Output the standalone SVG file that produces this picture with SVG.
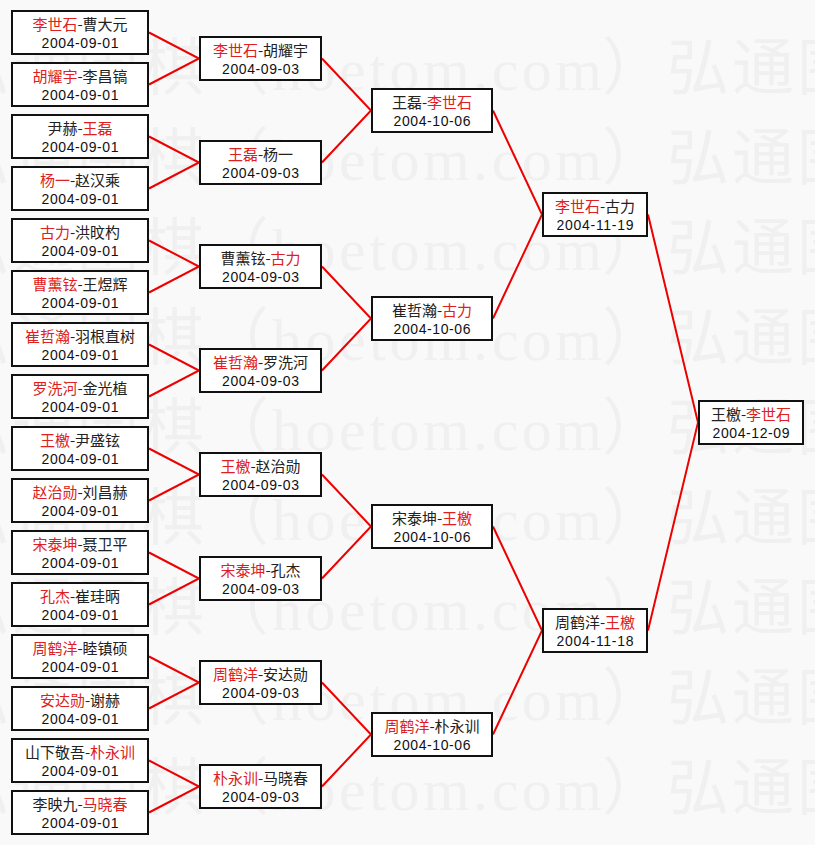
<svg xmlns="http://www.w3.org/2000/svg" xmlns:xlink="http://www.w3.org/1999/xlink" width="815" height="845" viewBox="0 0 815 845">
<style>
.bg{fill:#f9f9f9}
.wm{fill:#f0f0f0;font-family:"Liberation Serif","Noto Sans CJK SC",serif}
.wmc{font-family:"Noto Sans CJK SC",sans-serif;font-size:62px}
.wml{font-family:"Liberation Serif","Noto Sans CJK SC",serif;font-size:60px}
.box{fill:#ffffff;stroke:#111;stroke-width:2}
.n{font-family:"Noto Sans CJK SC",sans-serif;font-size:15px;fill:#222;text-anchor:middle}
.d{font-family:"Liberation Sans",Arial,sans-serif;font-size:14px;fill:#111;text-anchor:middle}
.r{fill:#e02020}
.c{fill:none;stroke:#ee0000;stroke-width:2;stroke-linejoin:miter}
</style>
<defs>
<g id="wmrow" class="wm">
<text class="wmc" x="-53 12 77 142 207" y="0">弘通围棋（</text>
<text class="wml" x="272" y="0" textLength="330" lengthAdjust="spacing">hoetom.com</text>
<text class="wmc" x="602 667 732 797 862" y="0">）弘通围棋</text>
</g>
</defs>
<rect class="bg" x="0" y="0" width="815" height="845"/>
<g id="watermark">
<use xlink:href="#wmrow" y="90"/>
<use xlink:href="#wmrow" y="180"/>
<use xlink:href="#wmrow" y="270"/>
<use xlink:href="#wmrow" y="360"/>
<use xlink:href="#wmrow" y="450"/>
<use xlink:href="#wmrow" y="540"/>
<use xlink:href="#wmrow" y="630"/>
<use xlink:href="#wmrow" y="720"/>
<use xlink:href="#wmrow" y="810"/>
</g>
<g id="connectors">
<polyline class="c" points="149,32.5 199,58.5 149,84.5"/>
<polyline class="c" points="149,136.5 199,162.5 149,188.5"/>
<polyline class="c" points="149,240.5 199,266.5 149,292.5"/>
<polyline class="c" points="149,344.5 199,370.5 149,396.5"/>
<polyline class="c" points="149,448.5 199,474.5 149,500.5"/>
<polyline class="c" points="149,552.5 199,578.5 149,604.5"/>
<polyline class="c" points="149,656.5 199,682.5 149,708.5"/>
<polyline class="c" points="149,760.5 199,786.5 149,812.5"/>
<polyline class="c" points="322,58.5 371,110.5 322,162.5"/>
<polyline class="c" points="322,266.5 371,318.5 322,370.5"/>
<polyline class="c" points="322,474.5 371,526.5 322,578.5"/>
<polyline class="c" points="322,682.5 371,734.5 322,786.5"/>
<polyline class="c" points="493,110.5 542,214.5 493,318.5"/>
<polyline class="c" points="493,526.5 542,630.5 493,734.5"/>
<polyline class="c" points="648,214.5 698,422.5 648,630.5"/>
</g>
<!-- Round 1 -->
<g id="r1-0" transform="translate(11,10)"><rect class="box" x="1" y="1" width="136" height="43"/><text class="n" x="69" y="20"><tspan class="r">李世石</tspan>-曹大元</text><text class="d" x="69" y="37.5" textLength="77" lengthAdjust="spacing">2004-09-01</text></g>
<g id="r1-1" transform="translate(11,62)"><rect class="box" x="1" y="1" width="136" height="43"/><text class="n" x="69" y="20"><tspan class="r">胡耀宇</tspan>-李昌镐</text><text class="d" x="69" y="37.5" textLength="77" lengthAdjust="spacing">2004-09-01</text></g>
<g id="r1-2" transform="translate(11,114)"><rect class="box" x="1" y="1" width="136" height="43"/><text class="n" x="69" y="20">尹赫-<tspan class="r">王磊</tspan></text><text class="d" x="69" y="37.5" textLength="77" lengthAdjust="spacing">2004-09-01</text></g>
<g id="r1-3" transform="translate(11,166)"><rect class="box" x="1" y="1" width="136" height="43"/><text class="n" x="69" y="20"><tspan class="r">杨一</tspan>-赵汉乘</text><text class="d" x="69" y="37.5" textLength="77" lengthAdjust="spacing">2004-09-01</text></g>
<g id="r1-4" transform="translate(11,218)"><rect class="box" x="1" y="1" width="136" height="43"/><text class="n" x="69" y="20"><tspan class="r">古力</tspan>-洪旼杓</text><text class="d" x="69" y="37.5" textLength="77" lengthAdjust="spacing">2004-09-01</text></g>
<g id="r1-5" transform="translate(11,270)"><rect class="box" x="1" y="1" width="136" height="43"/><text class="n" x="69" y="20"><tspan class="r">曹薰铉</tspan>-王煜辉</text><text class="d" x="69" y="37.5" textLength="77" lengthAdjust="spacing">2004-09-01</text></g>
<g id="r1-6" transform="translate(11,322)"><rect class="box" x="1" y="1" width="136" height="43"/><text class="n" x="69" y="20"><tspan class="r">崔哲瀚</tspan>-羽根直树</text><text class="d" x="69" y="37.5" textLength="77" lengthAdjust="spacing">2004-09-01</text></g>
<g id="r1-7" transform="translate(11,374)"><rect class="box" x="1" y="1" width="136" height="43"/><text class="n" x="69" y="20"><tspan class="r">罗洗河</tspan>-金光植</text><text class="d" x="69" y="37.5" textLength="77" lengthAdjust="spacing">2004-09-01</text></g>
<g id="r1-8" transform="translate(11,426)"><rect class="box" x="1" y="1" width="136" height="43"/><text class="n" x="69" y="20"><tspan class="r">王檄</tspan>-尹盛铉</text><text class="d" x="69" y="37.5" textLength="77" lengthAdjust="spacing">2004-09-01</text></g>
<g id="r1-9" transform="translate(11,478)"><rect class="box" x="1" y="1" width="136" height="43"/><text class="n" x="69" y="20"><tspan class="r">赵治勋</tspan>-刘昌赫</text><text class="d" x="69" y="37.5" textLength="77" lengthAdjust="spacing">2004-09-01</text></g>
<g id="r1-10" transform="translate(11,530)"><rect class="box" x="1" y="1" width="136" height="43"/><text class="n" x="69" y="20"><tspan class="r">宋泰坤</tspan>-聂卫平</text><text class="d" x="69" y="37.5" textLength="77" lengthAdjust="spacing">2004-09-01</text></g>
<g id="r1-11" transform="translate(11,582)"><rect class="box" x="1" y="1" width="136" height="43"/><text class="n" x="69" y="20"><tspan class="r">孔杰</tspan>-崔珪昞</text><text class="d" x="69" y="37.5" textLength="77" lengthAdjust="spacing">2004-09-01</text></g>
<g id="r1-12" transform="translate(11,634)"><rect class="box" x="1" y="1" width="136" height="43"/><text class="n" x="69" y="20"><tspan class="r">周鹤洋</tspan>-睦镇硕</text><text class="d" x="69" y="37.5" textLength="77" lengthAdjust="spacing">2004-09-01</text></g>
<g id="r1-13" transform="translate(11,686)"><rect class="box" x="1" y="1" width="136" height="43"/><text class="n" x="69" y="20"><tspan class="r">安达勋</tspan>-谢赫</text><text class="d" x="69" y="37.5" textLength="77" lengthAdjust="spacing">2004-09-01</text></g>
<g id="r1-14" transform="translate(11,738)"><rect class="box" x="1" y="1" width="136" height="43"/><text class="n" x="69" y="20">山下敬吾-<tspan class="r">朴永训</tspan></text><text class="d" x="69" y="37.5" textLength="77" lengthAdjust="spacing">2004-09-01</text></g>
<g id="r1-15" transform="translate(11,790)"><rect class="box" x="1" y="1" width="136" height="43"/><text class="n" x="69" y="20">李映九-<tspan class="r">马晓春</tspan></text><text class="d" x="69" y="37.5" textLength="77" lengthAdjust="spacing">2004-09-01</text></g>
<!-- Round 2 -->
<g id="r2-0" transform="translate(199,36)"><rect class="box" x="1" y="1" width="121" height="43"/><text class="n" x="61.5" y="20"><tspan class="r">李世石</tspan>-胡耀宇</text><text class="d" x="61.5" y="37.5" textLength="77" lengthAdjust="spacing">2004-09-03</text></g>
<g id="r2-1" transform="translate(199,140)"><rect class="box" x="1" y="1" width="121" height="43"/><text class="n" x="61.5" y="20"><tspan class="r">王磊</tspan>-杨一</text><text class="d" x="61.5" y="37.5" textLength="77" lengthAdjust="spacing">2004-09-03</text></g>
<g id="r2-2" transform="translate(199,244)"><rect class="box" x="1" y="1" width="121" height="43"/><text class="n" x="61.5" y="20">曹薰铉-<tspan class="r">古力</tspan></text><text class="d" x="61.5" y="37.5" textLength="77" lengthAdjust="spacing">2004-09-03</text></g>
<g id="r2-3" transform="translate(199,348)"><rect class="box" x="1" y="1" width="121" height="43"/><text class="n" x="61.5" y="20"><tspan class="r">崔哲瀚</tspan>-罗洗河</text><text class="d" x="61.5" y="37.5" textLength="77" lengthAdjust="spacing">2004-09-03</text></g>
<g id="r2-4" transform="translate(199,452)"><rect class="box" x="1" y="1" width="121" height="43"/><text class="n" x="61.5" y="20"><tspan class="r">王檄</tspan>-赵治勋</text><text class="d" x="61.5" y="37.5" textLength="77" lengthAdjust="spacing">2004-09-03</text></g>
<g id="r2-5" transform="translate(199,556)"><rect class="box" x="1" y="1" width="121" height="43"/><text class="n" x="61.5" y="20"><tspan class="r">宋泰坤</tspan>-孔杰</text><text class="d" x="61.5" y="37.5" textLength="77" lengthAdjust="spacing">2004-09-03</text></g>
<g id="r2-6" transform="translate(199,660)"><rect class="box" x="1" y="1" width="121" height="43"/><text class="n" x="61.5" y="20"><tspan class="r">周鹤洋</tspan>-安达勋</text><text class="d" x="61.5" y="37.5" textLength="77" lengthAdjust="spacing">2004-09-03</text></g>
<g id="r2-7" transform="translate(199,764)"><rect class="box" x="1" y="1" width="121" height="43"/><text class="n" x="61.5" y="20"><tspan class="r">朴永训</tspan>-马晓春</text><text class="d" x="61.5" y="37.5" textLength="77" lengthAdjust="spacing">2004-09-03</text></g>
<!-- Round 3 -->
<g id="r3-0" transform="translate(371,88)"><rect class="box" x="1" y="1" width="120" height="43"/><text class="n" x="61" y="20">王磊-<tspan class="r">李世石</tspan></text><text class="d" x="61" y="37.5" textLength="77" lengthAdjust="spacing">2004-10-06</text></g>
<g id="r3-1" transform="translate(371,296)"><rect class="box" x="1" y="1" width="120" height="43"/><text class="n" x="61" y="20">崔哲瀚-<tspan class="r">古力</tspan></text><text class="d" x="61" y="37.5" textLength="77" lengthAdjust="spacing">2004-10-06</text></g>
<g id="r3-2" transform="translate(371,504)"><rect class="box" x="1" y="1" width="120" height="43"/><text class="n" x="61" y="20">宋泰坤-<tspan class="r">王檄</tspan></text><text class="d" x="61" y="37.5" textLength="77" lengthAdjust="spacing">2004-10-06</text></g>
<g id="r3-3" transform="translate(371,712)"><rect class="box" x="1" y="1" width="120" height="43"/><text class="n" x="61" y="20"><tspan class="r">周鹤洋</tspan>-朴永训</text><text class="d" x="61" y="37.5" textLength="77" lengthAdjust="spacing">2004-10-06</text></g>
<!-- Round 4 -->
<g id="r4-0" transform="translate(542,192)"><rect class="box" x="1" y="1" width="104" height="43"/><text class="n" x="53" y="20"><tspan class="r">李世石</tspan>-古力</text><text class="d" x="53" y="37.5" textLength="77" lengthAdjust="spacing">2004-11-19</text></g>
<g id="r4-1" transform="translate(542,608)"><rect class="box" x="1" y="1" width="104" height="43"/><text class="n" x="53" y="20">周鹤洋-<tspan class="r">王檄</tspan></text><text class="d" x="53" y="37.5" textLength="77" lengthAdjust="spacing">2004-11-18</text></g>
<!-- Final -->
<g id="r5-0" transform="translate(698,400)"><rect class="box" x="1" y="1" width="104" height="43"/><text class="n" x="53" y="20">王檄-<tspan class="r">李世石</tspan></text><text class="d" x="53" y="37.5" textLength="77" lengthAdjust="spacing">2004-12-09</text></g>
</svg>
